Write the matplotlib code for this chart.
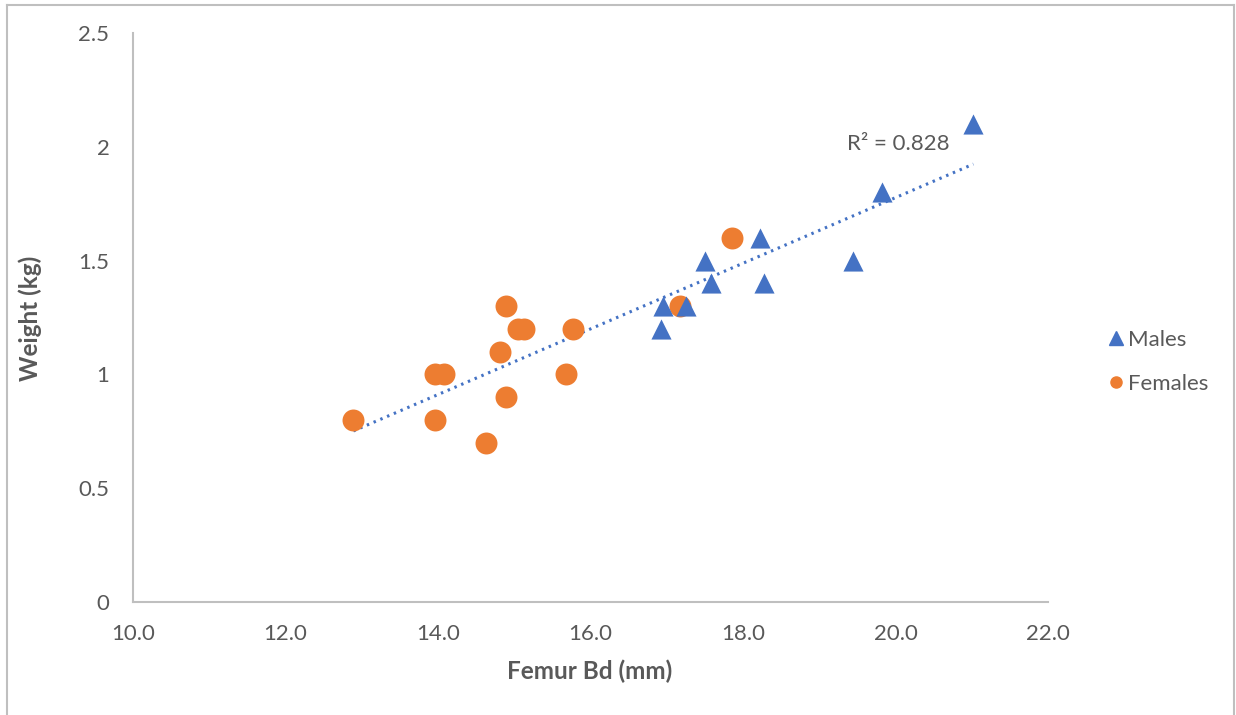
import numpy as np
import matplotlib
matplotlib.use('Agg')
import matplotlib.pyplot as plt
from matplotlib.lines import Line2D

plt.rcParams['font.family'] = ['Lato', 'DejaVu Sans']

# femur breadth (mm) and body weight (kg)
males_bd = [16.92, 16.95, 17.25, 17.5, 17.58, 18.22, 18.27, 19.44, 19.82, 21.02]
males_wt = [1.2, 1.3, 1.3, 1.5, 1.4, 1.6, 1.4, 1.5, 1.8, 2.1]
females_bd = [12.89, 13.96, 14.08, 13.96, 14.63, 14.81, 14.89, 14.89,
              15.05, 15.13, 15.68, 15.77, 17.17, 17.86]
females_wt = [0.8, 1.0, 1.0, 0.8, 0.7, 1.1, 1.3, 0.9,
              1.2, 1.2, 1.0, 1.2, 1.3, 1.6]
r2_label = 'R² = 0.828'

xticks = np.arange(10, 22.1, 2)
yticks = [0, 0.5, 1, 1.5, 2, 2.5]

BLUE = '#4472C4'
ORANGE = '#ED7D31'
GREY = '#595959'

fig = plt.figure(figsize=(12.36, 7.15), dpi=100)
ax = fig.add_axes([0.1076, 0.158, 0.7404, 0.796])

ax.scatter(females_bd, females_wt, s=250, color=ORANGE, marker='o',
           linewidths=0, zorder=3)
ax.scatter(males_bd, males_wt, s=210, color=BLUE, marker='^',
           linewidths=0, zorder=4)

# linear trendline over all animals
all_x = np.array(males_bd + females_bd)
all_y = np.array(males_wt + females_wt)
slope, icpt = np.polyfit(all_x, all_y, 1)
xs = np.array([all_x.min(), all_x.max()])
ax.plot(xs, slope * xs + icpt, color=BLUE, lw=2.2,
        linestyle=(0, (0.8, 1.6)), zorder=2)
ax.text(20.03, 2.01, r2_label, fontsize=16, color=GREY,
        ha='center', va='center')

ax.set_xlim(10, 22)
ax.set_ylim(0, 2.5)
ax.set_xticks(xticks)
ax.set_xticklabels(['%.1f' % t for t in xticks])
ax.set_yticks(yticks)
ax.set_yticklabels(['0', '0.5', '1', '1.5', '2', '2.5'])
ax.tick_params(length=0, labelsize=16, labelcolor=GREY)
ax.tick_params(axis='x', pad=16)
ax.tick_params(axis='y', pad=17)
for s in ['top', 'right']:
    ax.spines[s].set_visible(False)
for s in ['left', 'bottom']:
    ax.spines[s].set_color('#bfbfbf')
    ax.spines[s].set_linewidth(1.5)

ax.set_xlabel('Femur Bd (mm)', fontsize=17.5, fontweight='bold', color=GREY)
ax.set_ylabel('Weight (kg)', fontsize=17.5, fontweight='bold', color=GREY)
ax.xaxis.set_label_coords(0.4995, -0.121)
ax.yaxis.set_label_coords(-0.1126, 0.499)
ax.xaxis.label.set_va('center')
ax.yaxis.label.set_va('center')

handles = [Line2D([], [], marker='^', color=BLUE, ls='', markersize=10),
           Line2D([], [], marker='o', color=ORANGE, ls='', markersize=8)]
leg = fig.legend(handles, ['Males', 'Females'], loc='center left',
                 bbox_to_anchor=(0.894, 0.494), frameon=False, fontsize=16,
                 handletextpad=0.05, labelspacing=1.1, handlelength=1.0,
                 borderaxespad=0, borderpad=0)
for t in leg.get_texts():
    t.set_color(GREY)

# outer chart border
for xy in [([0.006, 0.006], [0, 0.993]), ([0.006, 0.998], [0.993, 0.993]),
           ([0.998, 0.998], [0, 0.993])]:
    fig.add_artist(Line2D(xy[0], xy[1], color='#bfbfbf', lw=1.5,
                          transform=fig.transFigure))

fig.savefig('out.png', dpi=100)
